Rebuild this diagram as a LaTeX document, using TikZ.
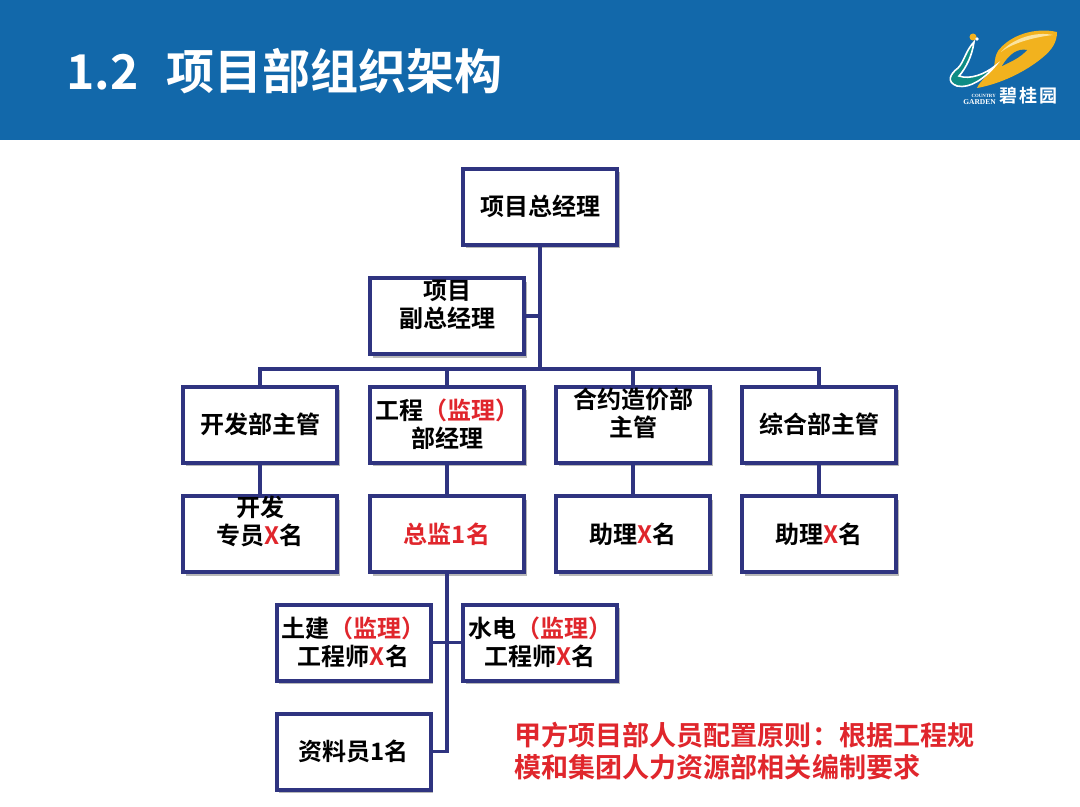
\documentclass[tikz,border=0pt]{standalone}
\usepackage{fontspec}
\setmainfont{Noto Sans CJK SC}[BoldFont={* Bold}]
\newfontfamily\logoserif{Liberation Serif}
\usetikzlibrary{shadows}
\definecolor{hdrblue}{HTML}{1268AA}
\definecolor{navy}{HTML}{2F3480}
\definecolor{redtxt}{HTML}{E0262C}
\definecolor{swoosh}{HTML}{F2B21E}
\definecolor{swooshlight}{HTML}{FBE3A0}
\definecolor{tealb}{HTML}{0E8C84}
\newcommand\rd[1]{\textcolor{redtxt}{#1}}
\tikzset{
  x=0.75pt,y=-0.75pt,
  orgbox/.style={draw=navy,line width=3pt,fill=white,minimum width=115.5pt,minimum height=57pt,inner sep=0pt,
    drop shadow={shadow xshift=2.2pt,shadow yshift=-2.8pt,opacity=.28,fill=black}},
  boxtext/.style={font=\fontsize{18pt}{21pt}\selectfont\bfseries,align=center,inner sep=0pt,text=black},
  conn/.style={draw=navy,line width=2.3pt},
  notetext/.style={font=\fontsize{20.3pt}{24pt}\selectfont\bfseries,text=redtxt,align=left,inner sep=0pt,anchor=north west},
}
\begin{document}
\begin{tikzpicture}
\useasboundingbox (0,0) rectangle (1080,806);
\fill[white] (0,0) rectangle (1080,806);
\fill[hdrblue] (0,0) rectangle (1080,140.5);
\node[font=\fontsize{36pt}{40pt}\selectfont\bfseries,text=white,anchor=west,inner sep=0pt] (title) at (66,71) {1.2\hspace{21pt}项目部组织架构};

% logo
\fill[swoosh] (1057,32) .. controls (1035,27) and (1010,35) .. (998,51) .. controls (993,60) and (996,64) .. (993,68) .. controls (985,78) and (978,84) .. (977,88) .. controls (1000,84) and (1025,72) .. (1042,58) .. controls (1052,50) and (1057,42) .. (1057,32) -- cycle;
\fill[swooshlight] (1053,35) .. controls (1035,31) and (1012,39) .. (1001,52) .. controls (1012,43) and (1035,37) .. (1053,35) -- cycle;
\fill[hdrblue] (1027,50) .. controls (1018,48) and (1009,54) .. (1002,66) .. controls (1010,62) and (1020,58) .. (1027,50) -- cycle;
\draw[white,line width=1.2pt,fill=tealb] (974,42) .. controls (966,50) and (964,62) .. (958,68) .. controls (950,74) and (946,82) .. (957,86) .. controls (970,89) and (985,78) .. (995,66) .. controls (985,74) and (970,80) .. (959,76) .. controls (966,68) and (972,56) .. (974,42) -- cycle;
\fill[swoosh] (973,37) circle (3.5);
\fill[white] (977,39) circle (1.8);
\node[font=\logoserif\bfseries\fontsize{3.6pt}{4pt}\selectfont,text=white,inner sep=0pt,anchor=east] (logoa) at (996,96) {COUNTRY};
\node[font=\logoserif\bfseries\fontsize{5.6pt}{6pt}\selectfont,text=white,inner sep=0pt,anchor=east] (logob) at (996,102.5) {GARDEN};
\node[font=\fontsize{13.5pt}{15pt}\selectfont\bfseries,text=white,inner sep=0pt,anchor=west] (logoc) at (999,96) {碧\hspace{1.5pt}桂\hspace{1.5pt}园};

% connectors run under the boxes
\coordinate (bus) at (540,369);
\coordinate (trunkvp) at (540,316);
\coordinate (spined) at (447,751.5);

% boxes
\node[orgbox] (gm)  at (540,206.5) {};
\node[orgbox] (vp)  at (447,316) {};
\node[orgbox] (dev) at (260,424.5) {};
\node[orgbox] (eng) at (447,424.5) {};
\node[orgbox] (con) at (633,424.5) {};
\node[orgbox] (gen) at (819,424.5) {};
\node[orgbox] (devs) at (260,534) {};
\node[orgbox] (chief) at (447,534) {};
\node[orgbox] (cona) at (633,534) {};
\node[orgbox] (gena) at (819,534) {};
\node[orgbox] (civil) at (353.5,642.5) {};
\node[orgbox] (mep) at (540,642.5) {};
\node[orgbox] (doc) at (353.5,751.5) {};

\draw[conn] (gm.south) -- (bus);
\draw[conn] (vp.east) -- (trunkvp);
\draw[conn] (dev.north) |- (bus) -| (gen.north);
\draw[conn] (eng.north) -- (eng.north |- bus);
\draw[conn] (con.north) -- (con.north |- bus);
\draw[conn] (dev.south) -- (devs.north);
\draw[conn] (eng.south) -- (chief.north);
\draw[conn] (con.south) -- (cona.north);
\draw[conn] (gen.south) -- (gena.north);
\draw[conn] (chief.south) -- (spined) -- (doc.east);
\draw[conn] (civil.east) -- (mep.west);

% box texts
\node[boxtext] (tgm) at (gm) {项目总经理};
\node[boxtext] (tvp) at (447,305) {项目\\副总经理};
\node[boxtext] (tdev) at (dev) {开发部主管};
\node[boxtext] (teng) at (eng) {工程\rd{（监理）}\\部经理};
\node[boxtext] (tcon) at (633,413) {合约造价部\\主管};
\node[boxtext] (tgen) at (gen) {综合部主管};
\node[boxtext] (tdevs) at (260,521) {开发\\专员\rd{X}名};
\node[boxtext] (tchief) at (chief) {\rd{总监1名}};
\node[boxtext] (tcona) at (cona) {助理\rd{X}名};
\node[boxtext] (tgena) at (gena) {助理\rd{X}名};
\node[boxtext] (tcivil) at (civil) {土建\rd{（监理）}\\工程师\rd{X}名};
\node[boxtext] (tmep) at (mep) {水电\rd{（监理）}\\工程师\rd{X}名};
\node[boxtext] (tdoc) at (doc) {资料员1名};

\node[notetext] (note) at (514,722) {甲方项目部人员配置原则：根据工程规\\模和集团人力资源部相关编制要求};
\end{tikzpicture}
\end{document}
